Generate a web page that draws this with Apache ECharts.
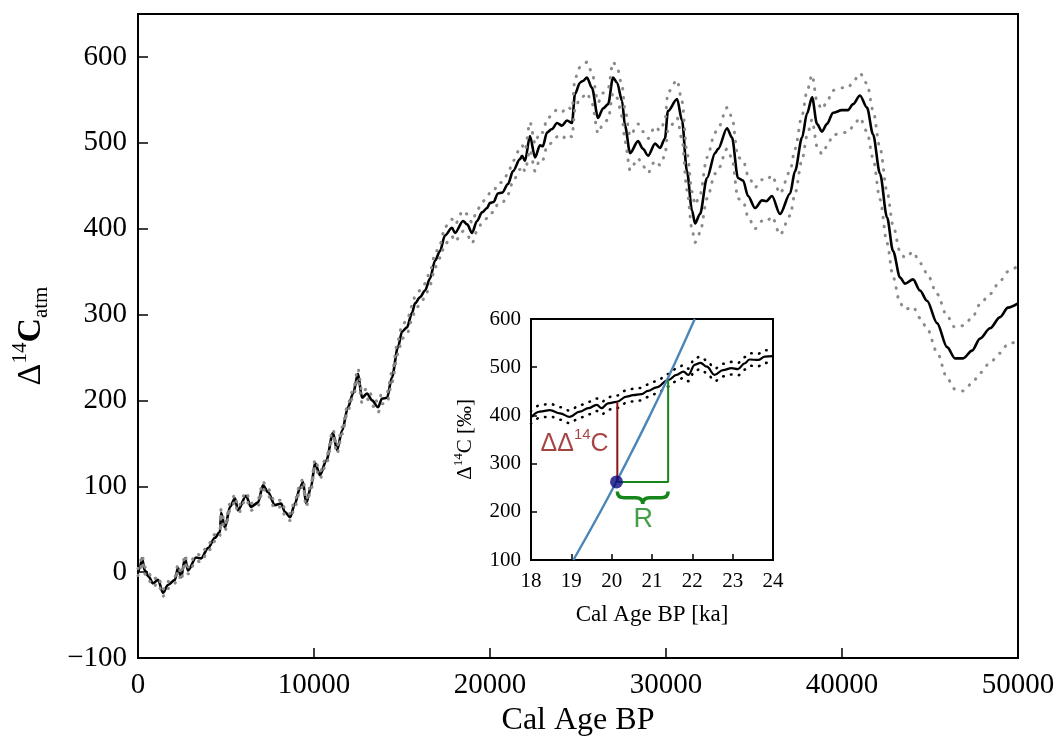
<!DOCTYPE html>
<html><head><meta charset="utf-8">
<script src="https://cdn.jsdelivr.net/npm/echarts@6/dist/echarts.min.js"></script>
<style>html,body{margin:0;padding:0;background:#fff}#c{width:1056px;height:738px}</style>
</head><body><div id="c"></div>
<script>
// ---- main chart data (Cal Age BP, Δ14C) ----
const mainX = [0,100,230,380,600,850,1140,1420,1700,2100,2270,2450,2670,2840,3300,3580,3980,4370,4660,4720,4940,5230,5510,5680,6140,6420,6820,7100,7390,7780,8130,8350,8640,8920,9200,9380,9550,9830,10060,10340,10700,11080,11310,11600,11930,12220,12500,12730,13010,13300,13640,13860,14150,14430,14770,15000,15280,15570,15740,16020,16310,16590,16880,17160,17440,17840,18010,18470,18700,18980,19260,19550,19830,20000,20200,20450,20700,21020,21310,21700,21820,21990,22270,22560,22840,23000,23240,23520,23810,24090,24380,24660,24830,25110,25280,25510,25790,26140,26420,26710,26990,27220,27500,27670,27960,28410,28690,28980,29380,29660,29940,30110,30630,30910,31190,31480,31650,31930,32330,32790,32960,33470,33750,34090,34380,34660,35060,35460,35700,36020,36480,37050,37330,37730,38010,38300,38580,38860,39150,39490,40000,40340,40630,41020,41420,41760,42160,42560,42900,43300,43580,44040,44430,44830,45400,45970,46420,46880,47390,47840,48410,48980,49430,50000];
const mainY = [0,5,16,2,-5,-13,-9,-24,-15,-9,5,-6,16,2,17,16,28,40,47,69,52,76,86,72,89,76,81,101,93,78,80,70,64,80,98,105,80,99,127,113,130,162,142,165,192,208,231,203,208,200,192,202,203,227,262,280,285,302,313,320,328,342,363,374,392,401,395,409,405,395,409,419,424,430,431,441,442,452,467,481,485,479,508,483,497,496,512,516,523,520,526,523,557,570,572,576,564,529,540,545,576,570,549,520,488,502,493,485,499,494,505,537,551,526,467,421,406,417,459,488,493,517,506,459,456,438,424,433,432,438,417,441,467,506,534,553,522,513,522,535,538,538,545,555,541,510,464,413,374,343,336,341,328,316,290,262,249,249,258,272,284,297,308,313];
const mainUpper = [4,9,20,6,-1,-9,-5,-20,-11,-5,9,-2,20,6,21,20,32,44,51,73,56,80,90,76,93,80,85,105,97,82,84,74,68,84,102,109,84,103,131,117,134,166,146,169,196,212,237,209,214,206,198,208,209,233,270,288,293,310,321,328,336,350,371,382,402,411,405,421,417,407,421,431,436,442,443,453,454,464,479,493,497,491,524,499,513,512,528,532,539,536,542,539,575,588,590,594,582,547,558,563,594,588,567,538,508,522,513,505,519,514,525,559,573,548,489,443,428,439,483,512,517,541,530,483,480,462,448,457,456,462,441,467,493,532,560,579,548,539,548,561,564,564,571,581,569,538,494,443,404,373,366,373,360,348,324,298,285,287,296,312,324,339,350,357];
const mainLower = [-4,1,12,-2,-9,-17,-13,-28,-19,-13,1,-10,12,-2,13,12,24,36,43,65,48,72,82,68,85,72,77,97,89,74,76,66,60,76,94,101,76,95,123,109,126,158,138,161,188,204,225,197,202,194,186,196,197,221,254,272,277,294,305,312,320,334,355,366,382,391,385,397,393,383,397,407,412,418,419,429,430,440,455,469,473,467,492,467,481,480,496,500,507,504,510,507,539,552,554,558,546,511,522,527,558,552,531,502,468,482,473,465,479,474,485,515,529,504,445,399,384,395,435,464,469,493,482,435,432,414,400,409,408,414,393,415,441,480,508,527,496,487,496,509,512,512,519,529,513,482,434,383,344,313,306,309,296,284,256,226,213,211,220,232,244,255,266,269];
const mainXTicks = [0,10000,20000,30000,40000,50000];

// ---- inset data (ka, ‰) ----
const insetX = [18.0,18.22,18.47,18.72,18.96,19.21,19.42,19.63,19.75,19.91,20.12,20.37,20.53,20.74,20.90,21.11,21.40,21.61,21.78,21.90,22.06,22.20,22.36,22.55,22.76,22.97,23.13,23.30,23.42,23.63,23.80,24.0];
const insetY = [396,408,411,404,397,408,415,422,415,425,428,439,442,444,451,458,473,484,491,484,505,509,501,484,494,498,496,508,516,515,522,523];
const insetUpper = [409,421,424,417,410,421,428,435,428,438,441,452,455,457,464,471,486,497,504,497,518,522,514,497,507,511,509,521,529,528,535,536];
const insetLower = [383,395,398,391,384,395,402,409,402,412,415,426,429,431,438,445,460,471,478,471,492,496,488,471,481,485,483,495,503,502,509,510];
const blueX = [19.05,19.72,20.35,20.95,21.52,22.06];
const blueY = [100,200,300,400,500,600];
const redX = [20.14,20.14];
const redY = [262,427];
const greenX = [20.14,21.40,21.40];
const greenY = [262,262,474];
const dotPoint = [20.12,262];
const braceSpan = [20.14,21.40,242,216];
const labelDD = [19.08,345];
const labelR = [20.78,183];

const zip = (a,b) => a.map((v,i)=>[v,b[i]]);
const SERIF = 'Liberation Serif';
const SANS = 'Liberation Sans';
const RED = '#8e1414';
const GREEN = '#17861a';
const minus = v => String(v).replace('-', '\u2212');

const chart = echarts.init(document.getElementById('c'), null, {renderer:'canvas'});
const axisCommon = (fs, tickLen, margin) => ({
  axisLine:{show:true, onZero:false, lineStyle:{color:'#000', width:2}},
  axisTick:{show:true, inside:true, length:tickLen, lineStyle:{color:'#000', width:1.5}},
  splitLine:{show:false},
  axisLabel:{color:'#000', fontFamily:SERIF, fontSize:fs, margin:margin}
});

const option = {
  animation:false,
  backgroundColor:'#fff',
  grid:[
    {left:138, right:38, top:14, bottom:80, show:true, borderColor:'#000', borderWidth:2, backgroundColor:'transparent',
      containLabel:false, outerBoundsMode:'none'},
    {left:531, width:242, top:319, height:241, show:true, borderColor:'#000', borderWidth:2, backgroundColor:'#fff', z:5,
      containLabel:false, outerBoundsMode:'none'}
  ],
  xAxis:[
    Object.assign(axisCommon(29,10,13), {type:'value', gridIndex:0, min:0, max:50000, interval:10000,
      name:'Cal Age BP', nameLocation:'middle', nameGap:47,
      nameTextStyle:{color:'#000', fontFamily:SERIF, fontSize:32}}),
    Object.assign(axisCommon(21,6,11), {type:'value', gridIndex:1, min:18, max:24, interval:1, z:6,
      name:'Cal Age BP [ka]', nameLocation:'middle', nameGap:43,
      nameTextStyle:{color:'#000', fontFamily:SERIF, fontSize:23}})
  ],
  yAxis:[
    Object.assign(axisCommon(29,10,11), {type:'value', gridIndex:0, min:-100, max:650, interval:100,
      name:'{a|Δ}{s|14}{c|C}{b|atm}', nameLocation:'middle', nameGap:86, nameRotate:90,
      nameTextStyle:{color:'#000', fontFamily:SERIF, rich:{
        a:{fontSize:34, fontFamily:SERIF, color:'#000', lineHeight:42, verticalAlign:'middle'},
        c:{fontSize:34, fontFamily:SERIF, fontWeight:'bold', color:'#000', lineHeight:42, verticalAlign:'middle'},
        s:{fontSize:21, fontFamily:SERIF, color:'#000', verticalAlign:'top', lineHeight:42},
        b:{fontSize:21, fontFamily:SERIF, color:'#000', verticalAlign:'bottom', lineHeight:42}
      }}}),
    Object.assign(axisCommon(21,6,10), {type:'value', gridIndex:1, min:100, max:600, interval:100, z:6,
      name:'{a|Δ}{s|14}{a|C [‰]}', nameLocation:'middle', nameGap:53, nameRotate:90,
      nameTextStyle:{color:'#000', fontFamily:SERIF, rich:{
        a:{fontSize:21, fontFamily:SERIF, color:'#000', lineHeight:26, verticalAlign:'middle'},
        s:{fontSize:13, fontFamily:SERIF, color:'#000', lineHeight:26, verticalAlign:'top'}
      }}})
  ],
  series:[
    {type:'line', xAxisIndex:0, yAxisIndex:0, data:zip(mainX, mainY), showSymbol:false, smooth:0.3, smoothMonotone:'x',
      lineStyle:{color:'#000', width:2.6}, z:2},
    {type:'line', xAxisIndex:0, yAxisIndex:0, data:zip(mainX, mainUpper), showSymbol:false, smooth:0.3, smoothMonotone:'x',
      lineStyle:{color:'#8a8a8a', width:3, type:[0.5,8.5], cap:'round'}, z:3},
    {type:'line', xAxisIndex:0, yAxisIndex:0, data:zip(mainX, mainLower), showSymbol:false, smooth:0.3, smoothMonotone:'x',
      lineStyle:{color:'#8a8a8a', width:3, type:[0.5,8.5], cap:'round'}, z:3},

    {type:'line', xAxisIndex:1, yAxisIndex:1, data:zip(insetX, insetY), showSymbol:false, smooth:0.4, smoothMonotone:'x',
      lineStyle:{color:'#000', width:2.2}, z:10},
    {type:'line', xAxisIndex:1, yAxisIndex:1, data:zip(insetX, insetUpper), showSymbol:false, smooth:0.4, smoothMonotone:'x',
      lineStyle:{color:'#000', width:2.6, type:[0.5,7.5], cap:'round'}, z:10},
    {type:'line', xAxisIndex:1, yAxisIndex:1, data:zip(insetX, insetLower), showSymbol:false, smooth:0.4, smoothMonotone:'x',
      lineStyle:{color:'#000', width:2.6, type:[0.5,7.5], cap:'round'}, z:10},
    {type:'line', xAxisIndex:1, yAxisIndex:1, data:zip(blueX, blueY), showSymbol:false, smooth:0.5, clip:true,
      lineStyle:{color:'#4a86b8', width:2.4}, z:11},
    {type:'line', xAxisIndex:1, yAxisIndex:1, data:zip(redX, redY), showSymbol:false,
      lineStyle:{color:RED, width:2}, z:12},
    {type:'line', xAxisIndex:1, yAxisIndex:1, data:zip(greenX, greenY), showSymbol:false,
      lineStyle:{color:GREEN, width:2}, z:12},
    {type:'scatter', xAxisIndex:1, yAxisIndex:1, data:[dotPoint], symbolSize:13,
      itemStyle:{color:'#0a0a80'}, z:13},
    {type:'custom', xAxisIndex:1, yAxisIndex:1, data:[braceSpan], z:13,
      renderItem:(params, api) => {
        const l = api.coord([api.value(0), api.value(2)]);
        const r = api.coord([api.value(1), api.value(2)]);
        const tip = api.coord([(api.value(0)+api.value(1))/2, api.value(3)]);
        const yt = l[1], yb = tip[1], ym = (yt+yb)/2, xm = tip[0], q = 7;
        const d = `M${l[0]},${yt} Q${l[0]},${ym} ${l[0]+q},${ym} L${xm-q},${ym} Q${xm},${ym} ${xm},${yb} Q${xm},${ym} ${xm+q},${ym} L${r[0]-q},${ym} Q${r[0]},${ym} ${r[0]},${yt}`;
        return {type:'path', shape:{pathData:d}, style:{fill:null, stroke:GREEN, lineWidth:3.5}};
      }},
    {type:'scatter', xAxisIndex:1, yAxisIndex:1, data:[labelDD], symbolSize:1, itemStyle:{color:'transparent'}, z:14,
      label:{show:true, position:'inside', formatter:'{a|ΔΔ}{s|14}{a|C}', rich:{
        a:{fontFamily:SANS, fontSize:25, color:RED, lineHeight:30, verticalAlign:'bottom'},
        s:{fontFamily:SANS, fontSize:15, color:RED, lineHeight:30, verticalAlign:'top'}}}},
    {type:'scatter', xAxisIndex:1, yAxisIndex:1, data:[labelR], symbolSize:1, itemStyle:{color:'transparent'}, z:14,
      label:{show:true, position:'inside', formatter:'R', fontFamily:SANS, fontSize:27, color:GREEN}}
  ]
};
option.xAxis[0].axisLabel.formatter = v => mainXTicks.includes(v) ? minus(v) : '';
option.yAxis[0].axisLabel.formatter = v => (v > 600 ? '' : minus(v));
chart.setOption(option);
</script></body></html>
